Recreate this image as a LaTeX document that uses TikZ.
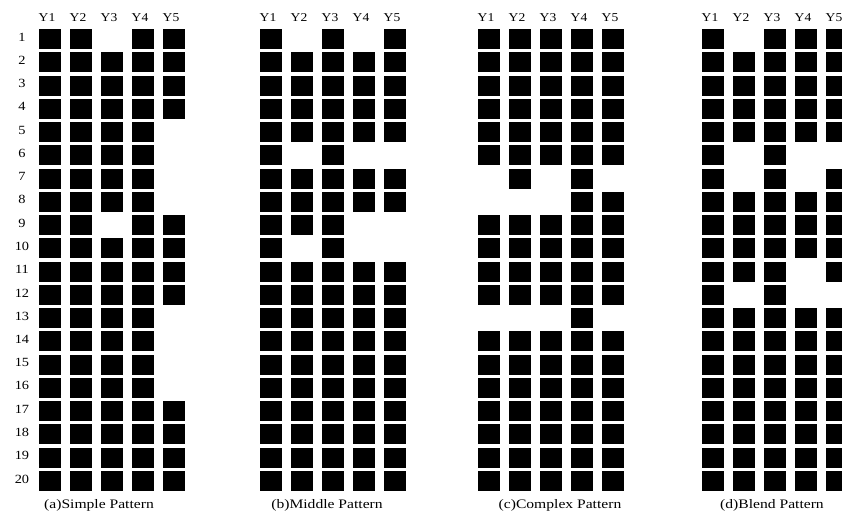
\documentclass[tikz,border=0pt]{standalone}
\usepackage{fontspec}
\setmainfont{Liberation Serif}
\begin{document}
\begin{tikzpicture}[x=1pt,y=-1pt,
  cell/.style={fill=black, draw=none, minimum width=21.5pt, minimum height=20pt, inner sep=0pt},
  hdr/.style={font=\fontsize{12}{14}\selectfont, inner sep=0pt},
  rowlbl/.style={font=\fontsize{12.5}{14}\selectfont, inner sep=0pt},
  capt/.style={font=\fontsize{13}{15}\selectfont, inner sep=0pt}]
\useasboundingbox[fill=white] (0,0) rectangle (842,517);
% row labels
\foreach \r in {1,...,20}
  \node[rowlbl] (row-\r) at (22,{37+(\r-1)*23.26}) {\scalebox{1.15}[1]{\r}};
% headers
\foreach \p/\xo in {a/47,b/268,c/486,d/710}
  \foreach \c in {1,...,5}
    \node[hdr] (h\p-\c) at ({\xo+(\c-1)*31},18) {\scalebox{1.13}[1]{Y\c}};
% panel a
\foreach \c/\f/\t in {1/1/20,2/1/20,3/2/8,3/10/20,4/1/20,5/1/4,5/9/12,5/17/20}
  \foreach \r in {\f,...,\t}
    \node[cell] (a-\c-\r) at ({50+(\c-1)*31},{39+(\r-1)*23.26}) {};
% panel b
\foreach \c/\f/\t in {1/1/20,2/2/5,2/7/9,2/11/20,3/1/20,4/2/5,4/7/8,4/11/20,5/1/5,5/7/8,5/11/20}
  \foreach \r in {\f,...,\t}
    \node[cell] (b-\c-\r) at ({271+(\c-1)*31},{39+(\r-1)*23.26}) {};
% panel c
\foreach \c/\f/\t in {1/1/6,1/9/12,1/14/20,2/1/7,2/9/12,2/14/20,3/1/6,3/9/12,3/14/20,4/1/20,5/1/6,5/8/12,5/14/20}
  \foreach \r in {\f,...,\t}
    \node[cell] (c-\c-\r) at ({489+(\c-1)*31},{39+(\r-1)*23.26}) {};
% panel d
\foreach \c/\f/\t in {1/1/20,2/2/5,2/8/11,2/13/20,3/1/20,4/1/5,4/8/10,4/13/20,5/1/5,5/7/11,5/13/20}
  \foreach \r in {\f,...,\t}
    \node[cell] (d-\c-\r) at ({713+(\c-1)*31},{39+(\r-1)*23.26}) {};
% captions
\node[capt] (capa) at (99,505) {\scalebox{1.2}[1]{(a)Simple Pattern}};
\node[capt] (capb) at (327,505) {\scalebox{1.2}[1]{(b)Middle Pattern}};
\node[capt] (capc) at (560,505) {\scalebox{1.2}[1]{(c)Complex Pattern}};
\node[capt] (capd) at (772,505) {\scalebox{1.2}[1]{(d)Blend Pattern}};
\end{tikzpicture}
\end{document}
